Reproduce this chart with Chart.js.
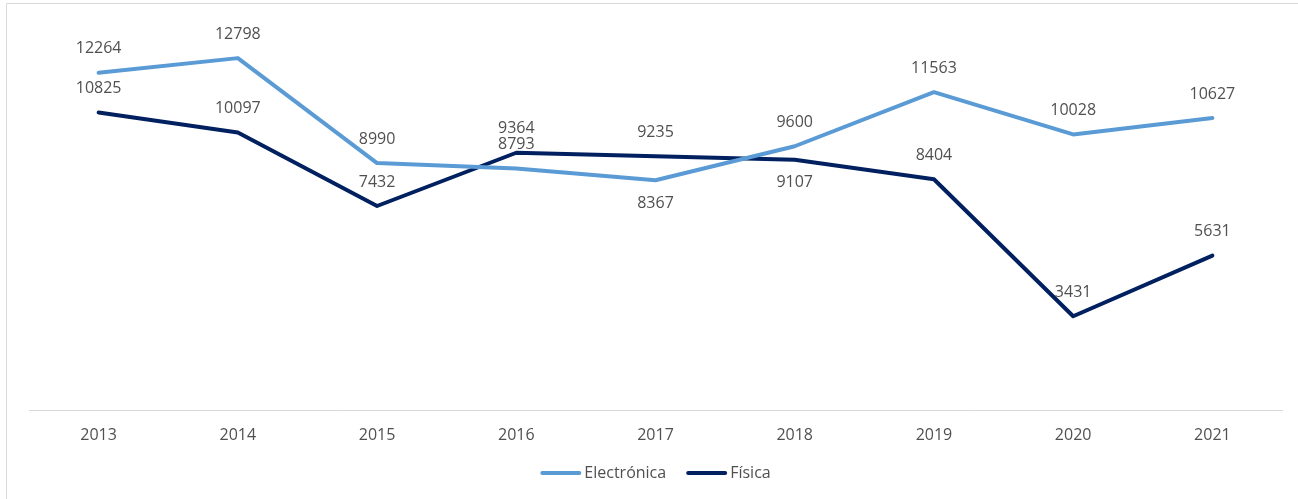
<!DOCTYPE html>
<html>
<head>
<meta charset="utf-8">
<script src="https://cdn.jsdelivr.net/npm/chart.js@4.4.1/dist/chart.umd.min.js"></script>
<style>
  html, body { margin: 0; padding: 0; background: #fff; }
  #wrap { width: 1298px; height: 499px; }
</style>
</head>
<body>
<div id="wrap"><canvas id="c" width="1298" height="499"></canvas></div>
<script>
const years = ['2013','2014','2015','2016','2017','2018','2019','2020','2021'];
const electronica = [12264, 12798, 8990, 8793, 8367, 9600, 11563, 10028, 10627];
const fisica = [10825, 10097, 7432, 9364, 9235, 9107, 8404, 3431, 5631];

const FONT = '"Open Sans", "Noto Sans", sans-serif';
const TEXT = '#505050';

// label placement: 'a' above, 'b' below
const labelPos = [
  ['a','a','a','a','b','a','a','a','a'],
  ['a','a','a','a','a','b','a','a','a']
];

const frame = {
  id: 'frame',
  beforeDraw(chart) {
    const ctx = chart.ctx;
    ctx.save();
    ctx.strokeStyle = '#d9d9d9';
    ctx.lineWidth = 1;
    ctx.beginPath();
    ctx.moveTo(6.5, 499);
    ctx.lineTo(6.5, 3.5);
    ctx.lineTo(1298, 3.5);
    ctx.stroke();
    ctx.restore();
  }
};

const valueLabels = {
  id: 'valueLabels',
  afterDatasetsDraw(chart) {
    const ctx = chart.ctx;
    ctx.save();
    ctx.font = '16px ' + FONT;
    ctx.fillStyle = TEXT;
    ctx.textAlign = 'center';
    ctx.textBaseline = 'middle';
    chart.data.datasets.forEach((ds, di) => {
      const meta = chart.getDatasetMeta(di);
      meta.data.forEach((pt, i) => {
        const off = labelPos[di][i] === 'b' ? 23 : -24;
        ctx.fillText(String(ds.data[i]), pt.x, pt.y + off);
      });
    });
    ctx.restore();
  }
};

const bottomLegend = {
  id: 'bottomLegend',
  afterDraw(chart) {
    const ctx = chart.ctx;
    const sw = 41, gap = 3, itemGap = 20, y = 473;
    ctx.save();
    ctx.font = '16px ' + FONT;
    ctx.textBaseline = 'middle';
    ctx.textAlign = 'left';
    const items = chart.data.datasets.map(ds => ({ text: ds.label, color: ds.borderColor, w: ctx.measureText(ds.label).width }));
    const total = items.reduce((s, it) => s + sw + gap + it.w, 0) + itemGap * (items.length - 1);
    let x = (chart.chartArea.left + chart.chartArea.right) / 2 - total / 2;
    items.forEach(it => {
      ctx.strokeStyle = it.color;
      ctx.lineWidth = 4;
      ctx.lineCap = 'round';
      ctx.beginPath();
      ctx.moveTo(x + 2, y);
      ctx.lineTo(x + sw - 2, y);
      ctx.stroke();
      ctx.fillStyle = TEXT;
      ctx.fillText(it.text, x + sw + gap, y);
      x += sw + gap + it.w + itemGap;
    });
    ctx.restore();
  }
};

new Chart(document.getElementById('c'), {
  type: 'line',
  data: {
    labels: years,
    datasets: [
      { label: 'Electrónica', data: electronica, borderColor: '#5B9BD5', backgroundColor: '#5B9BD5',
        borderWidth: 4, pointRadius: 0, tension: 0, borderJoinStyle: 'round', borderCapStyle: 'round' },
      { label: 'Física', data: fisica, borderColor: '#002060', backgroundColor: '#002060',
        borderWidth: 4, pointRadius: 0, tension: 0, borderJoinStyle: 'round', borderCapStyle: 'round' }
    ]
  },
  options: {
    responsive: false,
    animation: false,
    layout: { padding: { left: 29, right: 16, top: 25, bottom: 39 } },
    scales: {
      x: {
        offset: true,
        grid: { display: false, drawTicks: false },
        border: { display: true, color: '#d9d9d9', width: 1 },
        ticks: { color: TEXT, font: { family: FONT, size: 16 }, padding: 15 }
      },
      y: {
        display: false,
        min: 0,
        max: 14000
      }
    },
    plugins: {
      legend: { display: false },
      tooltip: { enabled: false }
    }
  },
  plugins: [frame, valueLabels, bottomLegend]
});
</script>
</body>
</html>
